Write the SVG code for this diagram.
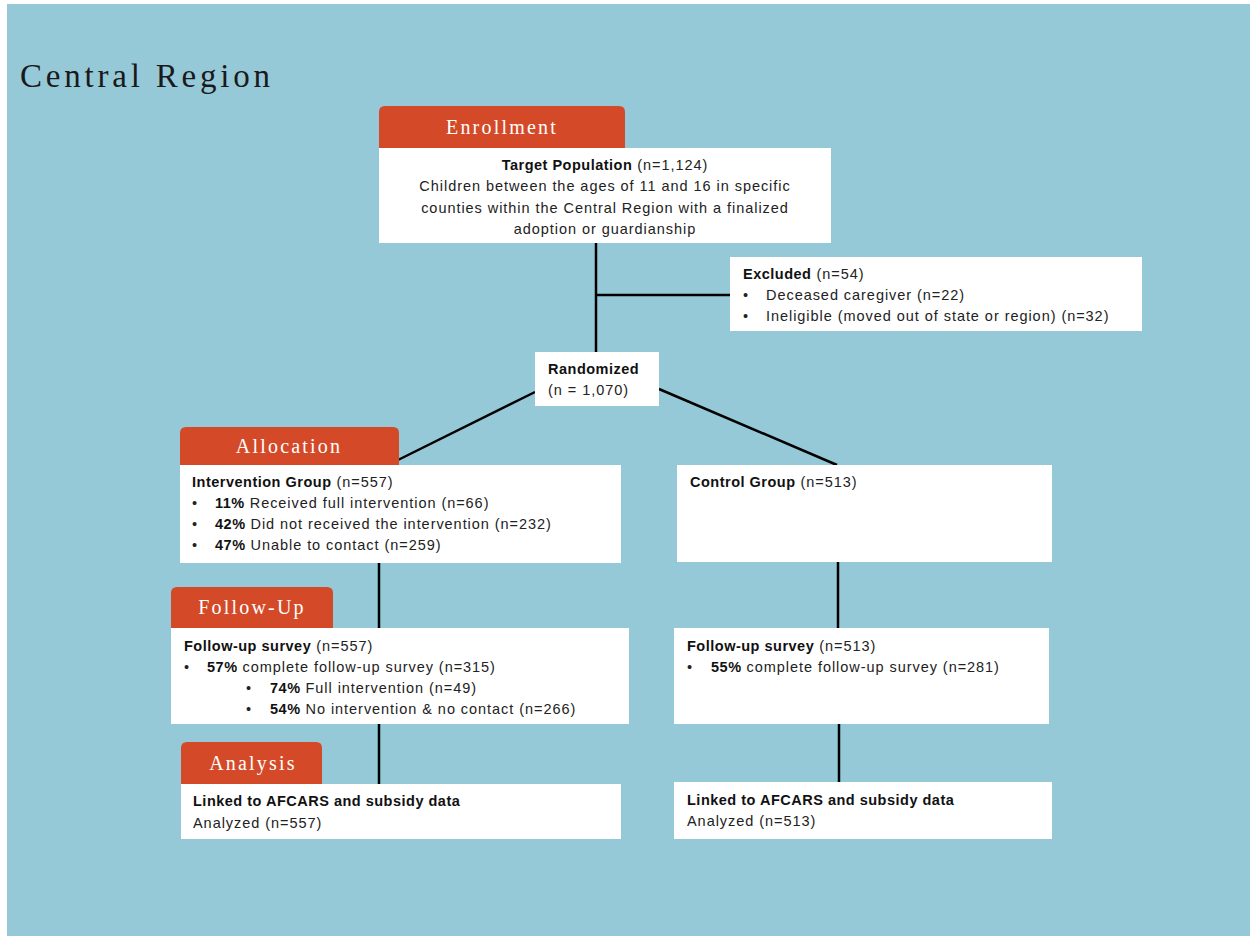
<svg xmlns="http://www.w3.org/2000/svg" width="1252" height="936" viewBox="0 0 1252 936">
  <style>
    .panel { fill: #96c9d8; }
    .box { fill: #ffffff; }
    .tab { fill: #d44a28; }
    .tabtxt { font-family: "Liberation Serif", serif; font-size: 20px; fill: #ffffff; letter-spacing: 2.2px; text-anchor: middle; }
    .title { font-family: "Liberation Serif", serif; font-size: 33px; fill: #1a1a1a; letter-spacing: 3.8px; }
    .t { font-family: "Liberation Sans", Arial, sans-serif; font-size: 14.5px; fill: #222222; letter-spacing: 0.95px; }
    .b { font-weight: bold; fill: #111111; letter-spacing: 0.5px; }
    .c { text-anchor: middle; }
    .link { stroke: #000000; stroke-width: 2.5; fill: none; }
  </style>

  <rect x="0" y="0" width="1252" height="936" fill="#ffffff"/>
  <rect class="panel" x="7" y="4" width="1243" height="932"/>

  <text class="title" x="20" y="87">Central Region</text>

  <!-- connectors -->
  <g id="connectors">
    <line class="link" x1="596" y1="243" x2="596" y2="353"/>
    <line class="link" x1="596" y1="295" x2="731" y2="295"/>
    <line class="link" x1="535" y1="392" x2="398" y2="460"/>
    <line class="link" x1="659" y1="389" x2="837" y2="465"/>
    <line class="link" x1="379" y1="562" x2="379" y2="629"/>
    <line class="link" x1="838" y1="561" x2="838" y2="629"/>
    <line class="link" x1="379" y1="723" x2="379" y2="785"/>
    <line class="link" x1="839" y1="723" x2="839" y2="783"/>
  </g>

  <!-- stage tabs -->
  <g id="tab-enrollment">
    <path class="tab" d="M379,148 V112 Q379,106 385,106 H619 Q625,106 625,112 V148 Z"/>
    <text class="tabtxt" x="502" y="134">Enrollment</text>
  </g>
  <g id="tab-allocation">
    <path class="tab" d="M180,466 V433 Q180,427 186,427 H393 Q399,427 399,433 V466 Z"/>
    <text class="tabtxt" x="289" y="453">Allocation</text>
  </g>
  <g id="tab-followup">
    <path class="tab" d="M171,629 V593 Q171,587 177,587 H327 Q333,587 333,593 V629 Z"/>
    <text class="tabtxt" x="252" y="614">Follow-Up</text>
  </g>
  <g id="tab-analysis">
    <path class="tab" d="M181,785 V748 Q181,742 187,742 H316 Q322,742 322,748 V785 Z"/>
    <text class="tabtxt" x="253" y="770">Analysis</text>
  </g>

  <g id="target-population">
    <rect class="box" x="379" y="148" width="452" height="95"/>
    <text class="t c" x="605" y="170"><tspan class="b">Target Population</tspan> (n=1,124)</text>
    <text class="t c" x="605" y="191">Children between the ages of 11 and 16 in specific</text>
    <text class="t c" x="605" y="213">counties within the Central Region with a finalized</text>
    <text class="t c" x="605" y="234">adoption or guardianship</text>
  </g>

  <g id="excluded">
    <rect class="box" x="730" y="257" width="412" height="74"/>
    <text class="t" x="743" y="279"><tspan class="b">Excluded</tspan> (n=54)</text>
    <text class="t" x="743" y="300">•</text>
    <text class="t" x="766" y="300">Deceased caregiver (n=22)</text>
    <text class="t" x="743" y="321">•</text>
    <text class="t" x="766" y="321">Ineligible (moved out of state or region) (n=32)</text>
  </g>

  <g id="randomized">
    <rect class="box" x="535" y="352" width="124" height="54"/>
    <text class="t b" x="548" y="374">Randomized</text>
    <text class="t" x="548" y="395">(n = 1,070)</text>
  </g>

  <g id="intervention-group">
    <rect class="box" x="180" y="465" width="441" height="98"/>
    <text class="t" x="192" y="487"><tspan class="b">Intervention Group</tspan> (n=557)</text>
    <text class="t" x="192" y="508">•</text>
    <text class="t" x="215" y="508"><tspan class="b">11%</tspan> Received full intervention (n=66)</text>
    <text class="t" x="192" y="529">•</text>
    <text class="t" x="215" y="529"><tspan class="b">42%</tspan> Did not received the intervention (n=232)</text>
    <text class="t" x="192" y="550">•</text>
    <text class="t" x="215" y="550"><tspan class="b">47%</tspan> Unable to contact (n=259)</text>
  </g>

  <g id="control-group">
    <rect class="box" x="677" y="465" width="375" height="97"/>
    <text class="t" x="690" y="487"><tspan class="b">Control Group</tspan> (n=513)</text>
  </g>

  <g id="followup-intervention">
    <rect class="box" x="171" y="628" width="458" height="96"/>
    <text class="t" x="184" y="651"><tspan class="b">Follow-up  survey</tspan> (n=557)</text>
    <text class="t" x="184" y="672">•</text>
    <text class="t" x="207" y="672"><tspan class="b">57%</tspan> complete follow-up survey (n=315)</text>
    <text class="t" x="246" y="693">•</text>
    <text class="t" x="270" y="693"><tspan class="b">74%</tspan> Full intervention (n=49)</text>
    <text class="t" x="246" y="714">•</text>
    <text class="t" x="270" y="714"><tspan class="b">54%</tspan> No intervention &amp; no contact (n=266)</text>
  </g>

  <g id="followup-control">
    <rect class="box" x="674" y="628" width="375" height="96"/>
    <text class="t" x="687" y="651"><tspan class="b">Follow-up  survey</tspan> (n=513)</text>
    <text class="t" x="687" y="672">•</text>
    <text class="t" x="711" y="672"><tspan class="b">55%</tspan> complete follow-up survey (n=281)</text>
  </g>

  <g id="analysis-intervention">
    <rect class="box" x="181" y="784" width="440" height="55"/>
    <text class="t b" x="193" y="806">Linked to AFCARS and subsidy data</text>
    <text class="t" x="193" y="828">Analyzed (n=557)</text>
  </g>

  <g id="analysis-control">
    <rect class="box" x="674" y="782" width="378" height="57"/>
    <text class="t b" x="687" y="805">Linked to AFCARS and subsidy data</text>
    <text class="t" x="687" y="826">Analyzed (n=513)</text>
  </g>
</svg>
